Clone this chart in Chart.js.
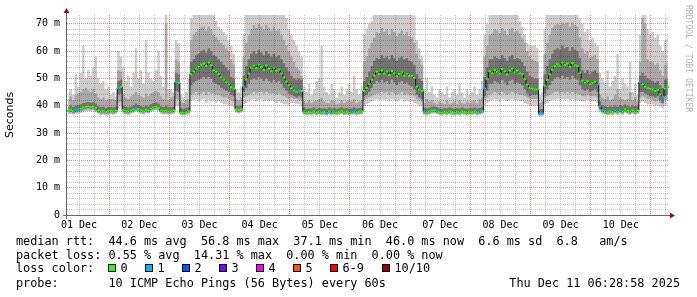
<!DOCTYPE html>
<html>
<head>
<meta charset="utf-8">
<script src="https://cdn.jsdelivr.net/npm/chart.js@4.4.0/dist/chart.umd.min.js"></script>
<style>
  body { margin: 0; background: #fff; }
  #wrap { position: relative; width: 697px; height: 297px; overflow: hidden; }
  canvas { position: absolute; left: 0; top: 0; }
  .t { position: absolute; font: 11.82px/14px "DejaVu Sans Mono", monospace; color: #000; white-space: pre; }
  .b { position: absolute; top: 264px; width: 6px; height: 6px; border: 1px solid #000; }
</style>
</head>
<body>
<div id="wrap">
  <canvas id="ping" width="697" height="297"></canvas>

  <div class="t" style="left:16px;top:234px">median rtt:  44.6 ms avg  56.8 ms max  37.1 ms min  46.0 ms now  6.6 ms sd  6.8   am/s</div>
  <div class="t" style="left:16px;top:248px">packet loss: 0.55 % avg  14.31 % max  0.00 % min  0.00 % now</div>
  <div class="t" style="left:16px;top:261px">loss color:</div>
  <div id="losskey"></div>
  <div class="t" style="left:16px;top:276px">probe:       10 ICMP Echo Pings (56 Bytes) every 60s</div>
  <div class="t" style="right:17px;top:276px">Thu Dec 11 06:28:58 2025</div>
</div>

<script>
// one column per hour, first column starts at 01 Dec 07:12
const startHour = 7.2;
const dayLabels = ['01 Dec', '02 Dec', '03 Dec', '04 Dec', '05 Dec',
                   '06 Dec', '07 Dec', '08 Dec', '09 Dec', '10 Dec'];

// median rtt (ms)
const median = [
  38.2,38.5,38.0,38.4,38.6,38.9,39.3,39.6,39.8,39.5,39.7,39.2,38.3,37.9,38.1,37.7,38.0,
  38.1,37.9,38.2,46.5,46.9,38.4,38.0,37.8,38.2,38.6,39.1,38.7,38.3,38.0,38.5,38.2,38.9,39.4,39.6,39.2,38.3,38.0,38.1,37.9,
  38.0,38.2,48.7,48.4,37.5,37.4,37.6,37.9,51.5,52.5,53.6,54.3,55.0,55.4,54.6,55.8,54.9,53.0,52.4,51.6,50.4,49.5,48.6,47.8,
  46.8,46.2,38.6,38.4,38.7,47.0,49.6,51.8,53.9,54.6,53.8,55.0,54.2,53.1,54.7,53.5,52.6,53.9,52.8,53.2,51.8,50.3,48.9,47.6,
  46.4,45.7,45.2,45.6,45.4,37.8,37.5,37.7,37.6,37.9,37.5,37.8,37.6,37.7,37.4,37.9,37.6,37.8,37.5,37.7,38.0,37.6,37.8,37.5,
  37.7,37.9,37.6,37.8,37.9,45.4,46.5,48.0,49.6,51.0,52.4,51.6,52.9,51.8,52.5,51.2,52.7,51.9,50.8,51.6,52.2,51.0,51.7,50.9,
  51.0,50.2,47.0,45.9,45.4,37.8,37.6,37.9,38.2,38.3,38.0,37.7,37.5,37.8,37.6,37.9,37.7,37.5,37.8,37.6,37.9,37.7,37.5,37.8,
  37.7,37.9,37.6,37.8,38.0,46.3,49.8,52.6,51.9,53.1,52.4,51.8,53.4,52.6,51.5,52.9,53.6,52.2,52.8,52.0,51.5,49.8,47.8,46.5,
  46.2,46.0,46.0,37.0,37.2,47.3,49.5,51.5,53.2,54.5,55.1,54.6,55.8,54.9,55.4,54.2,55.6,54.8,54.5,52.0,49.2,48.4,49.1,47.9,
  48.3,48.8,47.8,39.8,38.4,38.0,37.6,37.9,37.7,38.2,37.8,38.4,37.9,38.6,38.1,37.8,38.3,37.9,38.2,48.6,47.9,47.0,46.4,46.1,
  45.9,45.4,45.8,44.2,43.3,46.2,46.8
];

// smoke: fastest ping, slower pings, slowest ping (ms)
const pingMin = [
  36.8,37.0,36.7,36.9,37.1,37.3,37.6,37.9,38.0,37.8,37.9,37.5,36.9,36.5,36.7,36.4,36.6,
  36.8,36.6,36.9,39.0,39.5,37.1,36.7,36.5,36.9,37.3,37.8,37.4,37.0,36.7,37.2,36.9,37.6,38.1,38.3,37.9,37.0,36.7,36.8,36.6,
  36.7,36.9,40.0,39.8,36.4,36.3,36.5,36.8,41.5,42.0,42.5,41.5,42.0,42.5,41.0,42.0,41.5,42.0,41.0,41.5,41.0,40.5,40.5,40.0,
  40.0,39.5,37.3,37.1,37.4,40.5,41.0,41.5,42.0,42.5,41.5,42.0,42.5,41.5,42.0,41.5,42.0,41.5,41.0,41.5,41.0,40.5,40.5,40.0,
  41.0,41.0,40.5,40.5,40.0,36.6,36.4,36.5,36.4,36.7,36.3,36.6,36.4,36.5,36.2,36.7,36.4,36.6,36.3,36.5,36.8,36.4,36.6,36.3,
  36.5,36.7,36.4,36.6,36.7,40.0,40.5,41.0,41.5,42.0,42.5,42.0,42.5,42.0,42.5,41.5,42.5,42.0,41.5,42.0,42.5,41.5,42.0,41.5,
  41.5,41.0,40.5,40.0,40.0,36.6,36.4,36.7,37.0,37.1,36.8,36.5,36.3,36.6,36.4,36.7,36.5,36.3,36.6,36.4,36.7,36.5,36.3,36.6,
  36.5,36.7,36.4,36.6,36.8,40.0,41.0,41.5,42.0,42.5,42.0,41.5,42.5,42.0,41.5,42.0,42.5,42.0,42.0,41.5,41.5,41.0,40.5,40.0,
  40.0,40.0,40.0,36.0,36.2,40.5,41.0,41.5,42.0,42.0,42.5,42.0,42.5,42.0,42.5,42.0,42.5,42.0,42.0,41.5,41.5,41.5,42.0,41.5,
  41.5,41.5,41.0,37.5,37.1,36.7,36.3,36.6,36.4,36.9,36.5,37.1,36.6,37.3,36.8,36.5,37.0,36.6,36.9,41.0,41.5,41.0,40.5,40.5,
  40.5,40.0,40.0,39.5,39.0,40.0,40.5
];
const band1Lo = [
  37.2,37.5,37.1,37.4,37.6,37.8,38.1,38.4,38.6,38.3,38.5,38.0,37.3,36.9,37.1,36.8,37.0,
  37.2,37.0,37.3,41.0,41.5,37.5,37.1,36.9,37.3,37.7,38.2,37.8,37.4,37.1,37.6,37.3,38.0,38.5,38.7,38.3,37.4,37.1,37.2,37.0,
  37.1,37.3,42.5,42.0,36.8,36.7,36.9,37.2,44.0,44.5,45.0,44.0,44.5,45.0,44.0,45.0,44.5,44.5,44.0,44.0,43.5,43.0,43.0,42.5,
  42.0,41.5,37.7,37.5,37.8,43.0,43.5,44.0,44.5,45.0,44.5,45.0,45.0,44.5,45.0,44.5,44.5,44.5,44.0,44.5,44.0,43.5,43.0,42.5,
  43.0,42.5,42.5,42.0,42.0,37.0,36.8,36.9,36.8,37.1,36.7,37.0,36.8,36.9,36.6,37.1,36.8,37.0,36.7,36.9,37.2,36.8,37.0,36.7,
  36.9,37.1,36.8,37.0,37.1,42.0,42.5,43.0,43.5,44.0,44.5,44.5,45.0,44.5,45.0,44.0,45.0,44.5,44.0,44.5,45.0,44.0,44.5,44.0,
  44.0,43.5,42.5,42.0,41.5,37.0,36.8,37.1,37.4,37.5,37.2,36.9,36.7,37.0,36.8,37.1,36.9,36.7,37.0,36.8,37.1,36.9,36.7,37.0,
  36.9,37.1,36.8,37.0,37.2,42.0,43.0,44.0,44.5,45.0,44.5,44.0,45.0,44.5,44.0,44.5,45.0,44.5,44.5,44.0,44.0,43.5,43.0,42.5,
  42.5,42.5,42.5,36.4,36.6,43.0,43.5,44.0,44.5,45.0,45.0,44.5,45.0,44.5,45.0,44.5,45.0,44.5,44.5,44.0,43.5,43.5,44.0,43.5,
  43.5,43.5,43.0,38.2,37.5,37.1,36.7,37.0,36.8,37.3,36.9,37.5,37.0,37.7,37.2,36.9,37.4,37.0,37.3,43.0,43.5,43.0,42.5,42.5,
  42.0,41.5,42.0,41.0,40.5,42.0,42.5
];
const band2Lo = [
  37.6,37.9,37.4,37.8,38.0,38.3,38.7,39.0,39.2,38.9,39.1,38.6,37.7,37.3,37.5,37.2,37.4,
  37.6,37.4,37.7,44.0,44.5,37.9,37.5,37.3,37.7,38.1,38.6,38.2,37.8,37.5,38.0,37.7,38.4,38.9,39.1,38.7,37.8,37.5,37.6,37.4,
  37.5,37.7,45.5,45.0,37.1,37.0,37.2,37.5,47.5,48.5,49.0,49.5,50.0,50.5,50.0,50.5,50.0,48.5,48.0,47.5,46.5,46.0,45.5,45.0,
  44.0,43.5,38.1,37.9,38.2,45.0,46.5,48.0,49.5,50.0,49.5,50.5,50.0,49.0,50.0,49.0,48.5,49.5,48.5,49.0,48.0,46.5,45.5,44.5,
  44.0,43.5,43.0,43.5,43.0,37.3,37.1,37.2,37.1,37.4,37.0,37.3,37.1,37.2,36.9,37.4,37.1,37.3,37.0,37.2,37.5,37.1,37.3,37.0,
  37.2,37.4,37.1,37.3,37.4,43.5,44.0,45.0,46.5,48.0,49.0,48.5,49.5,48.5,49.0,48.0,49.5,48.5,47.5,48.5,49.0,48.0,48.5,47.5,
  47.0,46.0,44.0,43.0,42.5,37.3,37.1,37.4,37.7,37.8,37.5,37.2,37.0,37.3,37.1,37.4,37.2,37.0,37.3,37.1,37.4,37.2,37.0,37.3,
  37.2,37.4,37.1,37.3,37.5,43.5,45.5,48.0,48.0,49.0,48.5,48.0,49.5,48.5,47.5,49.0,49.5,48.0,48.5,48.0,47.5,46.0,44.5,43.5,
  44.0,44.0,44.0,36.7,36.9,44.5,46.0,47.5,49.0,50.0,50.5,50.0,51.0,50.0,50.5,49.5,51.0,50.0,49.5,47.5,46.0,45.5,46.0,45.0,
  45.5,46.0,45.0,38.8,37.9,37.5,37.1,37.4,37.2,37.7,37.3,37.9,37.4,38.1,37.6,37.3,37.8,37.4,37.7,45.0,45.0,44.5,44.0,43.5,
  43.5,43.0,43.5,42.0,41.0,43.5,44.0
];
const band2Hi = [
  39.6,40.0,39.5,40.0,40.3,40.5,41.0,41.2,41.4,41.1,41.3,40.8,39.8,39.4,39.6,39.2,39.5,
  39.5,39.3,39.6,49.0,49.5,39.9,39.5,39.3,39.7,40.2,40.8,40.3,39.9,39.5,40.1,39.7,40.5,41.0,41.3,40.8,39.8,39.5,40.0,39.4,
  39.4,39.7,52.0,51.5,39.0,38.9,39.1,39.5,56.0,57.0,58.5,59.0,60.0,60.5,59.5,61.0,60.0,58.5,58.0,57.0,56.0,55.0,54.0,53.0,
  50.5,50.0,40.0,39.8,40.2,51.0,54.5,57.0,59.0,60.0,59.0,60.5,59.5,58.5,60.0,59.0,58.0,59.0,58.0,58.5,57.0,55.5,54.0,52.5,
  51.0,50.0,49.5,50.0,49.5,39.2,38.9,39.1,39.0,39.3,38.9,39.2,39.0,39.1,38.8,39.3,39.0,39.2,38.9,39.1,39.4,39.0,39.2,38.9,
  39.1,39.3,39.0,39.2,39.3,49.0,50.5,52.5,54.5,56.5,57.5,57.0,58.5,57.5,58.0,57.0,58.5,57.5,56.5,57.5,58.0,57.0,57.5,56.5,
  56.0,55.0,51.5,50.0,49.0,39.2,39.0,39.3,39.6,39.7,39.4,39.1,38.9,39.2,39.0,39.3,39.1,38.9,39.2,39.0,39.3,39.1,38.9,39.2,
  39.1,39.3,39.0,39.2,39.4,50.5,54.0,57.0,57.0,58.0,57.5,57.0,58.5,57.5,56.5,58.0,58.5,57.0,57.5,57.0,56.0,54.5,52.5,51.0,
  50.5,50.0,50.0,38.6,38.8,51.5,54.5,57.0,59.0,60.5,61.0,60.5,62.0,61.0,61.5,60.0,61.5,60.5,60.0,57.5,53.0,52.0,53.0,51.5,
  52.5,53.0,52.0,41.5,40.3,39.9,39.5,39.8,39.6,40.1,39.7,40.3,39.8,40.5,40.0,39.7,40.2,39.8,40.1,51.0,52.0,51.0,50.0,49.5,
  49.0,48.5,49.0,47.5,46.5,49.5,50.0
];
const band1Hi = [
  42.5,43.5,42.0,44.0,44.5,45.0,46.0,46.5,45.5,45.0,46.0,44.5,43.0,42.5,43.0,42.0,42.5,
  42.5,42.5,42.0,53.0,52.5,44.0,43.0,42.5,43.5,44.0,45.0,44.0,43.5,43.0,44.5,43.5,44.5,45.0,45.5,45.0,43.5,42.5,70.0,42.0,
  43.0,43.5,57.0,56.0,41.5,41.0,42.0,42.5,64.0,66.0,67.0,68.0,68.5,69.0,67.5,69.0,68.0,66.0,65.0,64.0,63.0,62.0,61.0,60.0,
  57.0,55.0,42.5,42.0,43.0,58.0,63.0,66.0,68.0,69.5,68.5,70.0,69.0,68.0,69.5,68.5,67.5,69.0,67.5,68.0,66.0,64.0,62.0,60.0,
  58.0,56.0,54.0,53.0,51.0,41.5,41.0,42.0,41.0,41.5,42.0,42.5,43.0,41.5,41.0,41.0,42.0,41.5,40.5,41.0,42.0,41.0,41.5,42.0,
  41.5,42.5,41.0,41.5,42.0,56.0,58.0,61.0,63.0,65.0,67.0,66.5,68.5,67.0,68.0,66.0,68.0,67.0,65.5,66.5,67.5,66.0,67.0,65.5,
  65.0,63.0,59.0,57.0,55.0,41.0,42.5,41.5,42.0,41.0,40.5,41.5,41.0,40.5,42.0,40.5,41.0,41.5,40.5,42.0,41.0,40.5,41.5,41.0,
  41.5,42.0,41.0,42.5,43.0,58.0,62.0,66.0,66.5,68.0,67.5,66.5,68.5,67.5,66.0,68.0,68.5,67.0,67.5,66.5,65.0,63.0,60.0,58.0,
  57.0,56.5,56.0,41.0,41.5,59.0,63.0,66.0,68.5,69.5,70.0,69.5,70.5,70.0,70.5,69.0,70.5,69.5,69.0,65.0,61.0,59.0,60.0,57.5,
  58.0,58.5,57.0,44.0,43.0,42.5,43.5,42.0,42.5,44.0,46.0,43.0,42.5,42.0,42.5,45.0,42.0,43.0,41.5,56.0,72.0,70.0,57.0,56.0,
  56.0,55.0,55.5,53.0,51.0,55.0,56.0
];
const pingMax = [
  45,46,44,51.5,47,52,62,50,53,51,54,58,50,48,49,46,47,
  44,45,43.5,60,58,54,49,51,47,52,61,50,53,48,64,52,50,49,53,60,51,47,74,46,
  46,45,64,63,44,43,45,50,72,75,75,75,75,75,75,75,75,73,71,69,68,67,66,64,
  62,59,46,45,47,66,75,75,75,75,75,75,75,75,75,75,75,75,75,75,75,75,72,68,
  66,64,62,60,58,47,45,48,44,46,49,50,62,47,45,44,48,46,43,45,47,44,46,48,
  45,51,46,44,47,66,68,70,71,75,75,75,75,75,75,75,75,75,75,75,75,75,75,75,
  75,73,64,61,58,46,50,45,47,44,43,46,45,44,47,43,45,46,44,48,45,43,46,44,
  45,47,44,46,49,66,70,75,75,75,75,75,75,75,75,75,75,75,75,71,69,66,63,62,
  62,62,61,44,45,68,75,75,75,75,75,75,75,75,75,75,75,75,75,72,70,67,68,64,
  65,63,62,52,50,48,53,47,49,51,59,46,50,48,47,56,45,48,44,66,75,75,68,66,
  67,65,66,62,60,64,66
];

// columns where 1 of 10 pings was lost
const lossColumns = [3,4,20,27,43,70,92,103,105,113,114,142,147,164,166,188,189,211,212,213,218,220,228,237];

const lossNames = ['0', '1', '2', '3', '4', '5', '6-9', '10/10'];
const lossColors = ['#26ff00', '#00b8ff', '#0059ff', '#7e00ff', '#ff00ff', '#ff5500', '#ff0000', '#a10000'];
const lossKeyX = [108, 145, 182, 219, 256, 293, 330, 382];

let key = '';
for (let i = 0; i < lossNames.length; i++) {
  key += `<div class="b" style="left:${lossKeyX[i]}px;background:${lossColors[i]}"></div>`;
  key += `<div class="t" style="left:${lossKeyX[i] + 12.5}px;top:261px">${lossNames[i]}</div>`;
}
document.getElementById('losskey').innerHTML = key;

const xs = median.map((v, i) => startHour + 0.5 + i);
const pts = arr => arr.map((v, i) => ({x: xs[i], y: v}));

function smoke(arr, color) {
  return {
    data: pts(arr), stepped: 'middle', pointRadius: 0,
    borderWidth: 0, borderColor: 'transparent',
    backgroundColor: color || 'transparent', fill: color ? '+1' : false
  };
}

const xTicks = [];
for (let h = 12; h <= startHour + 240; h += 6) xTicks.push(h);
const yTicks = [];
for (let v = 0; v <= 72; v += 2) yTicks.push(v);

const monoFont = {family: 'DejaVu Sans Mono', size: 10};
const majorGrid = 'rgba(235,40,40,0.55)';
const minorGrid = 'rgba(0,0,0,0.22)';

const frame = {
  id: 'frame',
  afterDraw(chart) {
    const {ctx, chartArea: a} = chart;
    ctx.save();
    ctx.strokeStyle = '#666';
    ctx.lineWidth = 1;
    ctx.beginPath();
    ctx.moveTo(a.left - 0.5, a.bottom + 4);
    ctx.lineTo(a.left - 0.5, a.top - 3);
    ctx.moveTo(a.left - 4, a.bottom + 0.5);
    ctx.lineTo(a.right + 3, a.bottom + 0.5);
    ctx.stroke();

    ctx.fillStyle = '#a01010';
    ctx.beginPath();
    ctx.moveTo(a.left - 0.5, a.top - 7);
    ctx.lineTo(a.left - 3.5, a.top - 2);
    ctx.lineTo(a.left + 2.5, a.top - 2);
    ctx.fill();
    ctx.beginPath();
    ctx.moveTo(a.right + 6, a.bottom + 0.5);
    ctx.lineTo(a.right + 1, a.bottom - 2.5);
    ctx.lineTo(a.right + 1, a.bottom + 3.5);
    ctx.fill();

    ctx.translate(688, 5);
    ctx.rotate(Math.PI / 2);
    ctx.fillStyle = '#b4b4b4';
    ctx.font = '8.1px "DejaVu Sans Mono"';
    ctx.textBaseline = 'middle';
    ctx.fillText('RRDTOOL / TOBI OETIKER', 0, 0);
    ctx.restore();
  }
};

new Chart(document.getElementById('ping'), {
  type: 'line',
  data: {
    datasets: [
      {
        data: pts(median), showLine: false, pointStyle: 'line',
        pointRadius: 1.4, pointBorderWidth: 2,
        pointBorderColor: c => lossColumns.includes(c.dataIndex) ? '#00b8ff' : '#26ff00'
      },
      {data: pts(median), stepped: 'middle', borderColor: '#111', borderWidth: 1, pointRadius: 0, fill: false},
      smoke(band2Hi, '#737373'),
      smoke(band2Lo),
      smoke(band1Hi, '#a8a8a8'),
      smoke(band1Lo),
      smoke(pingMax, '#cdcdcd'),
      smoke(pingMin)
    ]
  },
  options: {
    responsive: false,
    animation: false,
    devicePixelRatio: 1,
    events: [],
    layout: {padding: {left: 0, right: 28, top: 15, bottom: 62}},
    plugins: {legend: {display: false}, tooltip: {enabled: false}},
    scales: {
      x: {
        type: 'linear',
        min: startHour,
        max: startHour + 240,
        afterBuildTicks: s => { s.ticks = xTicks.map(v => ({value: v})); },
        afterFit: s => { s.height = 20; },
        grid: {
          z: 1, drawTicks: false, lineWidth: 1,
          color: c => c.tick && c.tick.value % 24 === 0 ? majorGrid : minorGrid
        },
        border: {display: false, dash: [1, 1]},
        ticks: {
          autoSkip: false, maxRotation: 0, padding: 4, color: '#000', font: monoFont,
          callback: v => (v % 24 === 12 ? dayLabels[(v - 12) / 24] : '')
        }
      },
      y: {
        min: 0,
        max: 73.2,
        afterBuildTicks: s => { s.ticks = yTicks.map(v => ({value: v})); },
        afterFit: s => { s.width = 67; },
        grid: {
          z: 1, drawTicks: false, lineWidth: 1,
          color: c => c.tick && c.tick.value % 10 === 0 ? majorGrid : minorGrid
        },
        border: {display: false, dash: [1, 1]},
        ticks: {
          autoSkip: false, padding: 7, color: '#000', font: monoFont,
          callback: v => (v % 10 === 0 ? (v === 0 ? '0' : v + ' m') : '')
        },
        title: {
          display: true, text: 'Seconds', color: '#000',
          font: {family: 'DejaVu Sans', size: 11}, padding: {top: 4, bottom: 0}
        }
      }
    }
  },
  plugins: [frame]
});
</script>
</body>
</html>
